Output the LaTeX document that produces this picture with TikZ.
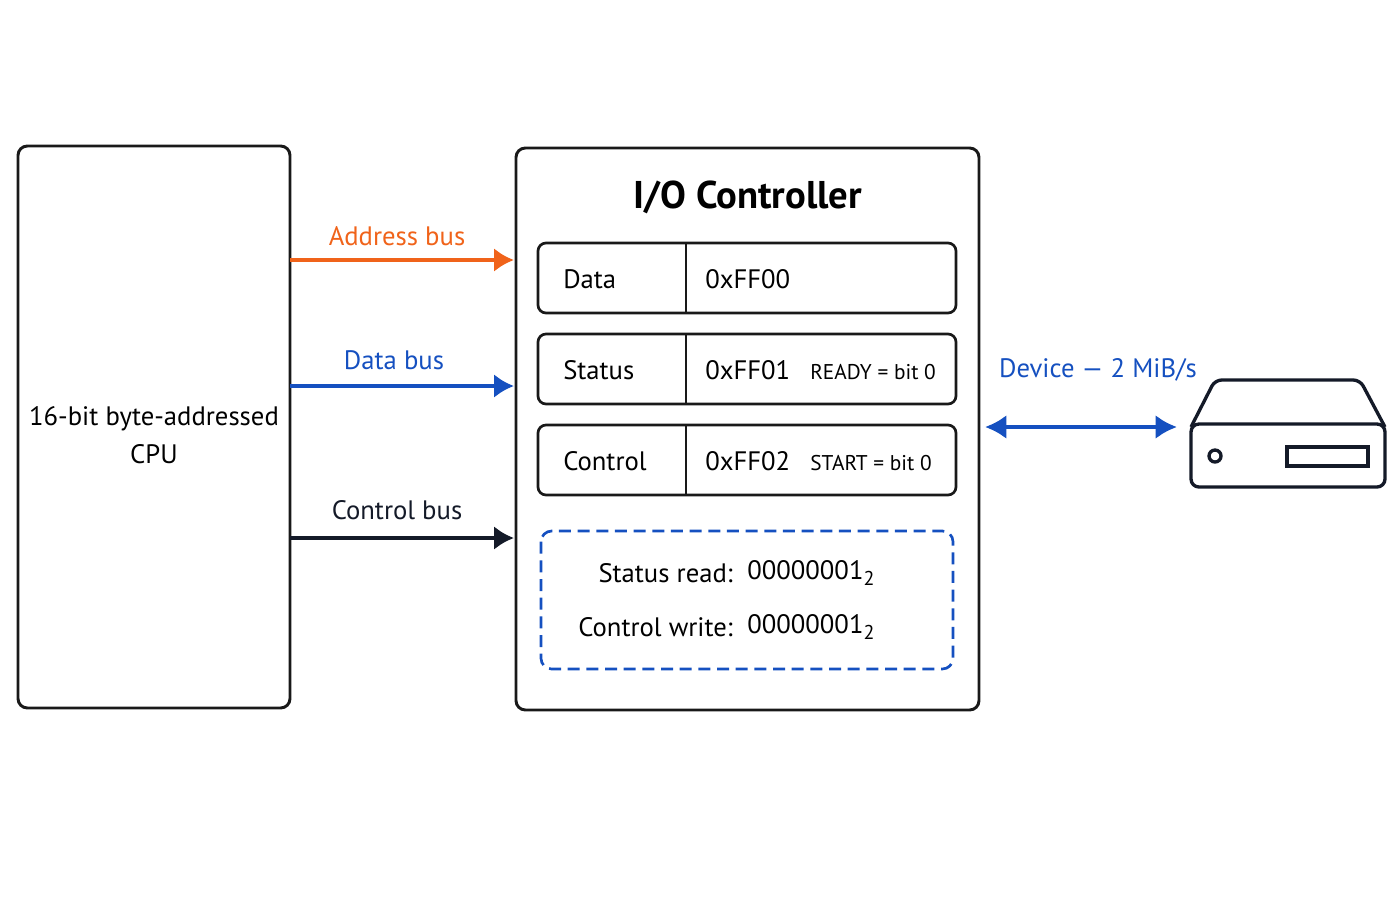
\documentclass[tikz,border=0pt]{standalone}
\usepackage{fontspec}
\setmainfont{PT Sans}
\usetikzlibrary{arrows.meta}
\begin{document}
\begin{tikzpicture}[x=0.75pt,y=-0.75pt,
  box/.style={draw=black!90,line width=2.2pt,rounded corners=7pt},
  reg/.style={draw=black!90,line width=2pt,rounded corners=6pt},
  bus/.style={line width=3pt,-{Latex[length=15pt,width=18pt]}},
  txt/.style={font=\fontsize{20}{24}\selectfont,inner sep=0pt},
  small/.style={font=\fontsize{16}{19}\selectfont,inner sep=0pt}]
\useasboundingbox (0,0) rectangle (1400,900);
\definecolor{org}{HTML}{F0631A}
\definecolor{blu}{HTML}{1550C0}
\definecolor{drk}{HTML}{141A28}
\newcommand{\subtwo}{\raisebox{-5pt}{\fontsize{15}{18}\selectfont 2}}
% CPU
\draw[box] (18,146) rectangle (290,708);
\node[txt,align=center] (cpu) at (154,435) {16-bit byte-addressed\\[4pt]CPU};
\coordinate (cpuA) at (290,260);
\coordinate (cpuD) at (290,386);
\coordinate (cpuC) at (290,538);
% Controller
\draw[box] (516,148) rectangle (979,710);
\node[font=\fontsize{29}{34}\selectfont\bfseries,inner sep=0pt] (title) at (748,197) {I/O Controller};
\coordinate (ctlA) at (514,260);
\coordinate (ctlD) at (514,386);
\coordinate (ctlC) at (514,538);
% registers
\foreach \y/\n/\a/\e in {243/Data/0xFF00/,334/Status/0xFF01/{READY = bit 0},425/Control/0xFF02/{START = bit 0}}{
  \draw[reg] (538,\y) rectangle (956,\y+70);
  \draw[line width=2pt,black!90] (686,\y) -- (686,\y+70);
  \node[txt,anchor=west] at (563,\y+36) {\n};
  \node[txt,anchor=west] at (705,\y+36) {\a};
  \node[small,anchor=west] at (810,\y+38) {\e};
}
% dashed box
\draw[blu,line width=2pt,dash pattern=on 9pt off 5pt,rounded corners=8pt] (541,531) rectangle (953,669);
\node[txt,anchor=east] (sr) at (733,573) {Status read:};
\node[txt,anchor=west] (srv) at (747,573) {00000001\subtwo};
\node[txt,anchor=east] (cw) at (733,627) {Control write:};
\node[txt,anchor=west] (cwv) at (747,627) {00000001\subtwo};
% buses
\draw[bus,org] (cpuA) -- (ctlA);
\draw[bus,blu] (cpuD) -- (ctlD);
\draw[bus,drk] (cpuC) -- (ctlC);
\node[txt,org] (la) at (397,236) {Address bus};
\node[txt,blu] (ld) at (394,360) {Data bus};
\node[txt,drk] (lc) at (397,510) {Control bus};
% device link
\coordinate (dl) at (985,427);
\coordinate (dr) at (1177,427);
\draw[line width=3pt,blu,{Latex[length=16pt,width=18pt]}-{Latex[length=16pt,width=18pt]}] (dl) -- (dr);
\node[txt,blu] (dev) at (1098,370) {Device — 2 MiB/s};
% device
\draw[line width=2.5pt,drk,rounded corners=5pt] (1191,427) -- (1215,380) -- (1360,380) -- (1385,427);
\draw[line width=2.5pt,drk,rounded corners=6pt] (1191,424) rectangle (1385,487);
\draw[line width=2.5pt,drk] (1215,456) circle (6);
\draw[line width=2.5pt,drk] (1287,447) rectangle (1368,466);
\end{tikzpicture}
\end{document}
